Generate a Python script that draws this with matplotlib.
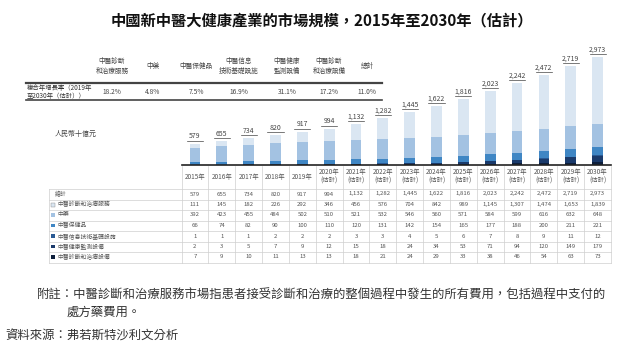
import matplotlib.pyplot as plt
from matplotlib.transforms import blended_transform_factory, offset_copy

plt.rcParams['font.family'] = ['Noto Sans CJK TC', 'DejaVu Sans']

years = [2015, 2016, 2017, 2018, 2019, 2020, 2021, 2022,
         2023, 2024, 2025, 2026, 2027, 2028, 2029, 2030]
total = [579, 655, 734, 820, 917, 994, 1132, 1282,
         1445, 1622, 1816, 2023, 2242, 2472, 2719, 2973]
services = [111, 145, 182, 226, 292, 346, 456, 576,
            704, 842, 989, 1145, 1307, 1474, 1653, 1839]
medicine = [392, 423, 455, 484, 502, 510, 521, 532,
            546, 560, 571, 584, 599, 616, 632, 648]
health_products = [66, 74, 82, 90, 100, 110, 120, 131,
                   142, 154, 165, 177, 188, 200, 211, 221]
it_infra = [1, 1, 1, 2, 2, 2, 3, 3, 4, 5, 6, 7, 8, 9, 11, 12]
monitoring = [2, 3, 5, 7, 9, 12, 15, 18, 24, 34, 53, 71, 94, 120, 149, 179]
equipment = [7, 9, 10, 11, 13, 13, 18, 21, 24, 29, 33, 38, 46, 54, 63, 73]

series_names = ['中醫診斷和治療服務', '中藥', '中醫保健品',
                '中醫信息技術基礎設施', '中醫健康監測設備', '中醫診斷和治療設備']
series_colors = ['#dae6f2', '#a3c2e2', '#3f86c4', '#2a5a94', '#1a3a6b', '#0d1f3c']

cagr_headers = ['中醫診斷\n和治療服務', '中藥', '中醫保健品', '中醫信息\n技術基礎設施',
                '中醫健康\n監測設備', '中醫診斷\n和治療設備', '總計']
cagr_values = ['18.2%', '4.8%', '7.5%', '16.9%', '31.1%', '17.2%', '11.0%']

W, H = 640, 357
fig = plt.figure(figsize=(W / 100, H / 100), dpi=100)
bg = fig.add_axes([0, 0, 1, 1])
bg.set_xlim(0, W)
bg.set_ylim(H, 0)
bg.axis('off')

# title
bg.text(322, 20, '中國新中醫大健康產業的市場規模，2015年至2030年（估計）',
        ha='center', va='center', fontsize=11, fontweight='bold', color='#111111')

# CAGR table
bg.plot([26, 382], [83, 83], color='#444444', lw=1.6)
bg.plot([26, 382], [100, 100], color='#444444', lw=1.2)
bg.text(27, 92, '複合年增長率（2019年\n至2030年（估計））', ha='left', va='center',
        fontsize=4.6, color='#333333', linespacing=1.1)
cagr_x = [112, 153, 196, 239, 287, 329, 367]
for cx, head, val in zip(cagr_x, cagr_headers, cagr_values):
    bg.text(cx, 66, head, ha='center', va='center', fontsize=4.8,
            color='#444444', linespacing=1.2)
    bg.text(cx, 92, val, ha='center', va='center', fontsize=4.8, color='#444444')

bg.text(55, 134, '人民幣十億元', ha='left', va='center', fontsize=5, color='#444444')

# bars
ax = fig.add_axes([181.5 / W, 1 - 165 / H, (611 - 181.5) / W, 120 / H])
ax.patch.set_visible(False)
x = list(range(len(years)))
stack = [equipment, monitoring, it_infra, health_products, medicine, services]
stack_colors = series_colors[::-1]
bottom = [0] * len(years)
for vals, c in zip(stack, stack_colors):
    ax.bar(x, vals, 0.4, bottom=bottom, color=c, linewidth=0)
    bottom = [b + v for b, v in zip(bottom, vals)]
ax.set_xlim(-0.5, len(years) - 0.5)
ax.set_ylim(0, 3300)
for s in ['top', 'right', 'left']:
    ax.spines[s].set_visible(False)
ax.spines['bottom'].set_color('#222222')
ax.spines['bottom'].set_linewidth(1.2)
ax.set_xticks([])
ax.set_yticks([])

txt_off = offset_copy(ax.transData, fig=fig, y=2.6, units='points')
line_off = offset_copy(ax.transData, fig=fig, y=2.2, units='points')
for i, t in enumerate(total):
    ax.text(i, t, f'{t:,}', transform=txt_off, ha='center', va='bottom',
            fontsize=5, color='#444444')
    ax.plot([i - 0.3, i + 0.3], [t, t], transform=line_off, color='#444444',
            lw=0.5, clip_on=False)

# data table under the bars
tr = blended_transform_factory(ax.transData, bg.transData)
grid_c = '#cfcfcf'
for i in range(len(years) + 1):
    ax.plot([i - 0.5, i - 0.5], [166, 262.5], transform=tr, color=grid_c,
            lw=0.5, clip_on=False)
for i, yr in enumerate(years):
    lab = f'{yr}年' if yr < 2020 else f'{yr}年\n(估計)'
    ax.text(i, 176.5, lab, transform=tr, ha='center', va='center',
            fontsize=4.6, color='#555555', linespacing=1.1)

row_y = [194, 204.5, 215, 225.5, 236, 246.5, 257]
row_bounds = [188.5, 199.5, 210, 220.5, 231, 241.5, 252, 262.5]
for yb in row_bounds:
    bg.plot([49, 611], [yb, yb], color=grid_c, lw=0.5)
bg.plot([49, 49], [188.5, 262.5], color=grid_c, lw=0.5)

rows = [total, services, medicine, health_products, it_infra, monitoring, equipment]
row_labels = ['總計'] + series_names
for r, (vals, name, ry) in enumerate(zip(rows, row_labels, row_y)):
    if r == 0:
        bg.text(55, ry, name, ha='left', va='center', fontsize=4.2, color='#555555')
    else:
        bg.scatter([53], [ry], marker='s', s=5, color=series_colors[r - 1],
                   edgecolors='#888888' if r == 1 else 'none', linewidths=0.3)
        bg.text(57, ry, name, ha='left', va='center', fontsize=4.2, color='#555555')
    for i, v in enumerate(vals):
        ax.text(i, ry, f'{v:,}', transform=tr, ha='center', va='center',
                fontsize=4.3, color='#555555')

# notes
bg.text(37, 295, '附註：中醫診斷和治療服務市場指患者接受診斷和治療的整個過程中發生的所有費用，包括過程中支付的',
        ha='left', va='center', fontsize=8.9, color='#333333')
bg.text(67, 312, '處方藥費用。', ha='left', va='center', fontsize=8.9, color='#333333')
bg.text(5, 336, '資料來源：弗若斯特沙利文分析', ha='left', va='center', fontsize=8.9,
        color='#333333')

fig.savefig('out.png', dpi=100)
